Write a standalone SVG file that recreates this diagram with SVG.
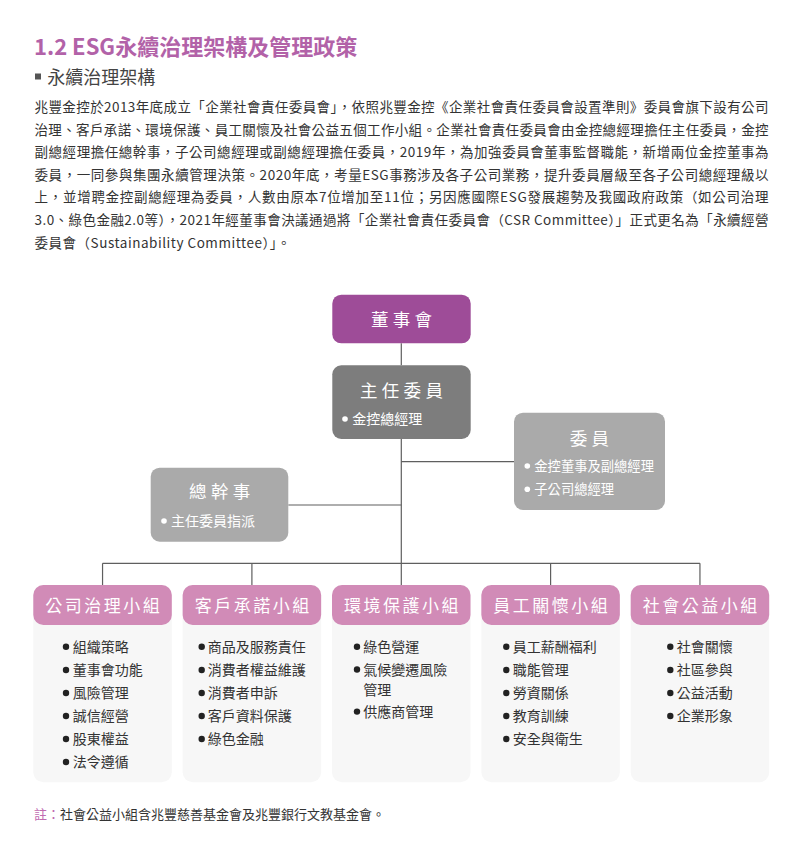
<svg xmlns="http://www.w3.org/2000/svg" width="810" height="844" viewBox="0 0 810 844">
<style>
text{font-family:"Noto Sans CJK TC","Noto Sans",sans-serif;}
.title{font-size:22px;font-weight:700;fill:#b262a8;}
.sub{font-size:18px;fill:#444;}
.para{font-size:13.5px;fill:#333;}
.note{font-size:13px;fill:#333;}
.ntitle{font-size:17.5px;fill:#fff;letter-spacing:4.3px;text-anchor:middle;}
.nb{font-size:14px;fill:#fff;}
.gh{font-size:17px;fill:#fff;letter-spacing:2.5px;text-anchor:middle;}
.gi{font-size:14px;fill:#333;}
.line{stroke:#5f5f5f;stroke-width:1.2;fill:none;}
.body{fill:#f7f7f7;}
.head{fill:#d18bb7;}
.wdot{fill:#fff;}
.kdot{fill:#222;}
</style>

<text class="title" x="34" y="55">1.2 ESG永續治理架構及管理政策</text>
<rect x="35" y="73.5" width="6" height="6" fill="#555"/>
<text class="sub" x="47.3" y="84.3">永續治理架構</text>

<g id="paragraph">
<text class="para" x="34.5" y="112" textLength="734" lengthAdjust="spacing">兆豐金控於2013年底成立「企業社會責任委員會」，依照兆豐金控《企業社會責任委員會設置準則》委員會旗下設有公司</text>
<text class="para" x="34.5" y="134.6" textLength="734" lengthAdjust="spacing">治理、客戶承諾、環境保護、員工關懷及社會公益五個工作小組。企業社會責任委員會由金控總經理擔任主任委員，金控</text>
<text class="para" x="34.5" y="157.2" textLength="734" lengthAdjust="spacing">副總經理擔任總幹事，子公司總經理或副總經理擔任委員，2019年，為加強委員會董事監督職能，新增兩位金控董事為</text>
<text class="para" x="34.5" y="179.8" textLength="734" lengthAdjust="spacing">委員，一同參與集團永續管理決策。2020年底，考量ESG事務涉及各子公司業務，提升委員層級至各子公司總經理級以</text>
<text class="para" x="34.5" y="202.4" textLength="734" lengthAdjust="spacing">上，並增聘金控副總經理為委員，人數由原本7位增加至11位；另因應國際ESG發展趨勢及我國政府政策（如公司治理</text>
<text class="para" x="34.5" y="225" textLength="734" lengthAdjust="spacing">3.0、綠色金融2.0等），2021年經董事會決議通過將「企業社會責任委員會（CSR Committee）」正式更名為「永續經營</text>
<text class="para" x="34.5" y="247.6" textLength="256" lengthAdjust="spacing">委員會（Sustainability Committee）」。</text>
</g>

<g id="connectors">
<line class="line" x1="401.3" y1="343.3" x2="401.3" y2="365.3"/>
<line class="line" x1="401.3" y1="439" x2="401.3" y2="585"/>
<line class="line" x1="401.3" y1="461.7" x2="514" y2="461.7"/>
<line class="line" x1="288.3" y1="505" x2="401.3" y2="505"/>
<line class="line" x1="102.55" y1="563.3" x2="699.95" y2="563.3"/>
<line class="line" x1="102.55" y1="563.3" x2="102.55" y2="585"/>
<line class="line" x1="251.9" y1="563.3" x2="251.9" y2="585"/>
<line class="line" x1="550.6" y1="563.3" x2="550.6" y2="585"/>
<line class="line" x1="699.95" y1="563.3" x2="699.95" y2="585"/>
</g>

<g id="board">
<rect x="332.3" y="294.7" width="138.4" height="48.6" rx="9" fill="#9e4c98"/>
<text class="ntitle" x="403.6" y="325.6">董事會</text>
</g>

<g id="chair">
<rect x="332.3" y="365.3" width="138.4" height="73.7" rx="9" fill="#7d7d7d"/>
<text class="ntitle" x="403.6" y="397.3">主任委員</text>
<circle class="wdot" cx="345" cy="419" r="2.8"/>
<text class="nb" x="352.3" y="424.3">金控總經理</text>
</g>

<g id="members">
<rect x="514" y="412.7" width="151" height="97.3" rx="9" fill="#aaaaaa"/>
<text class="ntitle" x="591.6" y="444.9">委員</text>
<circle class="wdot" cx="527.3" cy="466" r="2.8"/>
<text class="nb" x="534.3" y="471.1" style="font-size:13.3px">金控董事及副總經理</text>
<circle class="wdot" cx="527.3" cy="489.3" r="2.8"/>
<text class="nb" x="534.3" y="494.4" style="font-size:13.3px">子公司總經理</text>
</g>

<g id="secretary">
<rect x="150.7" y="467.7" width="137.6" height="74" rx="9" fill="#aaaaaa"/>
<text class="ntitle" x="221.8" y="498.3">總幹事</text>
<circle class="wdot" cx="164" cy="521" r="2.8"/>
<text class="nb" x="171" y="526.3">主任委員指派</text>
</g>

<g id="group-governance">
<rect class="body" x="33.3" y="585" width="138.5" height="197.3" rx="10"/>
<rect class="head" x="33.3" y="585" width="138.5" height="40" rx="10"/>
<text class="gh" x="103.8" y="612.2">公司治理小組</text>
<circle class="kdot" cx="66" cy="646.7" r="3.2"/><text class="gi" x="72.7" y="652">組織策略</text>
<circle class="kdot" cx="66" cy="670" r="3.2"/><text class="gi" x="72.7" y="675.3">董事會功能</text>
<circle class="kdot" cx="66" cy="693" r="3.2"/><text class="gi" x="72.7" y="698.3">風險管理</text>
<circle class="kdot" cx="66" cy="716" r="3.2"/><text class="gi" x="72.7" y="721.3">誠信經營</text>
<circle class="kdot" cx="66" cy="739" r="3.2"/><text class="gi" x="72.7" y="744.3">股東權益</text>
<circle class="kdot" cx="66" cy="762" r="3.2"/><text class="gi" x="72.7" y="767.3">法令遵循</text>
</g>

<g id="group-customer">
<rect class="body" x="182.65" y="585" width="138.5" height="197.3" rx="10"/>
<rect class="head" x="182.65" y="585" width="138.5" height="40" rx="10"/>
<text class="gh" x="253.15" y="612.2">客戶承諾小組</text>
<circle class="kdot" cx="201.7" cy="646.7" r="3.2"/><text class="gi" x="207.7" y="652">商品及服務責任</text>
<circle class="kdot" cx="201.7" cy="670" r="3.2"/><text class="gi" x="207.7" y="675.3">消費者權益維護</text>
<circle class="kdot" cx="201.7" cy="693" r="3.2"/><text class="gi" x="207.7" y="698.3">消費者申訴</text>
<circle class="kdot" cx="201.7" cy="716" r="3.2"/><text class="gi" x="207.7" y="721.3">客戶資料保護</text>
<circle class="kdot" cx="201.7" cy="739" r="3.2"/><text class="gi" x="207.7" y="744.3">綠色金融</text>
</g>

<g id="group-environment">
<rect class="body" x="332" y="585" width="138.5" height="197.3" rx="10"/>
<rect class="head" x="332" y="585" width="138.5" height="40" rx="10"/>
<text class="gh" x="402.5" y="612.2">環境保護小組</text>
<circle class="kdot" cx="357" cy="646.7" r="3.2"/><text class="gi" x="363.3" y="652">綠色營運</text>
<circle class="kdot" cx="357" cy="669.5" r="3.2"/><text class="gi" x="363.3" y="674.8">氣候變遷風險</text>
<text class="gi" x="363.3" y="695.4">管理</text>
<circle class="kdot" cx="357" cy="711.6" r="3.2"/><text class="gi" x="363.3" y="716.9">供應商管理</text>
</g>

<g id="group-employee">
<rect class="body" x="481.35" y="585" width="138.5" height="197.3" rx="10"/>
<rect class="head" x="481.35" y="585" width="138.5" height="40" rx="10"/>
<text class="gh" x="551.85" y="612.2">員工關懷小組</text>
<circle class="kdot" cx="506.3" cy="646.7" r="3.2"/><text class="gi" x="512.7" y="652">員工薪酬福利</text>
<circle class="kdot" cx="506.3" cy="670" r="3.2"/><text class="gi" x="512.7" y="675.3">職能管理</text>
<circle class="kdot" cx="506.3" cy="693" r="3.2"/><text class="gi" x="512.7" y="698.3">勞資關係</text>
<circle class="kdot" cx="506.3" cy="716" r="3.2"/><text class="gi" x="512.7" y="721.3">教育訓練</text>
<circle class="kdot" cx="506.3" cy="739" r="3.2"/><text class="gi" x="512.7" y="744.3">安全與衛生</text>
</g>

<g id="group-community">
<rect class="body" x="630.7" y="585" width="138.5" height="197.3" rx="10"/>
<rect class="head" x="630.7" y="585" width="138.5" height="40" rx="10"/>
<text class="gh" x="701.2" y="612.2">社會公益小組</text>
<circle class="kdot" cx="670.3" cy="646.7" r="3.2"/><text class="gi" x="676.7" y="652">社會關懷</text>
<circle class="kdot" cx="670.3" cy="670" r="3.2"/><text class="gi" x="676.7" y="675.3">社區參與</text>
<circle class="kdot" cx="670.3" cy="693" r="3.2"/><text class="gi" x="676.7" y="698.3">公益活動</text>
<circle class="kdot" cx="670.3" cy="716" r="3.2"/><text class="gi" x="676.7" y="721.3">企業形象</text>
</g>

<text class="note" x="34" y="818.7"><tspan fill="#c06ab0">註：</tspan>社會公益小組含兆豐慈善基金會及兆豐銀行文教基金會。</text>
</svg>
